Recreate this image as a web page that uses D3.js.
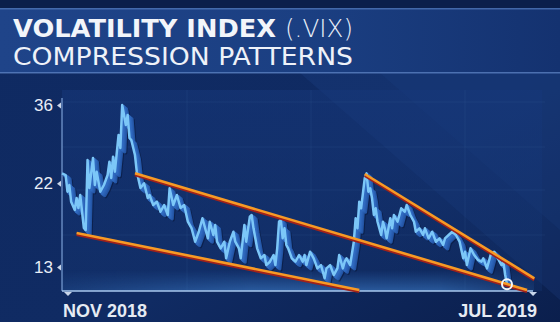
<!DOCTYPE html>
<html><head><meta charset="utf-8">
<script src="https://cdn.jsdelivr.net/npm/d3@7"></script>
<style>html,body{margin:0;padding:0;background:#0c2356;}svg{display:block;}</style>
</head><body>
<svg id="chart" width="560" height="322"></svg>
<script>
// ---- data ----
const titleLine1 = "VOLATILITY INDEX";
const titleTicker = "(.VIX)";
const titleLine2 = "COMPRESSION PATTERNS";
// calendar days since 1 Nov 2018
const days = [0,2,3,4,5,7,8,9,10,11,12,13,14,15,17,18,19,21,23,25,26,27,28,29,31,32,33,35,36,37,38,40,41,43,45,47,48,50,52,54,56,58,59,61,63,65,67,69,71,73,75,77,80,81,83,84,85,87,89,90,92,94,95,97,98,99,100,101,103,104,105,107,109,111,112,114,116,117,118,119,120,121,122,123,124,126,128,130,132,133,134,136,138,140,142,144,145,147,149,151,152,154,155,156,158,160,161,162,163,164,166,167,168,169,170,171,172,173,175,176,177,178,180,181,182,184,186,188,189,191,193,194,196,198,199,201,203,205,207,209,210,212,214,216,218,220,221,222,224,226,228,230,231,233,235,237,239,241,242,243,244];
const vix = [23.43,23.18,20.87,21.77,19.60,18.60,20.06,18.84,20.44,18.40,16.61,16.40,25.48,21.36,25.80,21.77,23.67,20.87,21.77,23.18,25.21,22.75,26.01,23.67,29.81,27.47,36.0,31.75,33.81,29.26,28.89,26.29,23.67,21.36,22.01,20.06,20.44,19.20,19.60,18.40,19.20,18.03,21.32,19.20,20.44,18.84,19.20,17.28,16.61,15.24,16.23,17.66,15.57,17.28,15.90,16.93,15.24,14.62,15.24,13.73,15.24,16.23,15.24,14.62,13.73,15.24,16.93,15.24,17.84,18.03,16.58,14.62,13.73,14.02,13.16,13.44,14.02,13.16,14.62,17.28,17.47,15.57,16.58,14.93,14.62,13.73,13.44,14.02,13.44,14.02,13.16,14.31,13.73,12.89,13.16,12.11,12.89,13.16,12.36,12.89,14.02,12.89,13.44,13.73,13.16,15.24,17.66,16.58,19.60,18.80,22.71,23.43,20.87,21.32,20.02,18.03,18.80,17.28,15.90,17.28,16.58,15.57,17.66,16.58,18.03,17.28,18.80,18.40,19.20,18.03,17.28,16.23,16.58,15.90,16.58,15.57,16.23,15.24,15.57,14.93,15.57,15.90,16.23,15.90,15.24,13.73,14.31,13.16,14.62,14.02,13.60,13.44,13.73,12.89,14.02,14.31,13.73,13.16,13.44,12.36,11.66];
const yTicks = [13, 22, 36];
const xTickDays = [3, 258];
const xTickLabels = ["NOV 2018", "JUL 2019"];
// trend lines: start/end day and level
const trendStartDay = [8, 40, 166];
const trendStartVal = [16.10, 23.43, 23.33];
const trendEndDay = [163, 255, 259];
const trendEndVal = [11.25, 11.25, 12.11];

// ---- drawing ----
const svg = d3.select("#chart");
const W = 560, H = 322;
const defs = svg.append("defs");

const bg = defs.append("linearGradient").attr("id","bg").attr("x1",0).attr("y1",0).attr("x2",1).attr("y2",1);
bg.append("stop").attr("offset","0%").attr("stop-color","#0f2a62");
bg.append("stop").attr("offset","60%").attr("stop-color","#102b63");
bg.append("stop").attr("offset","100%").attr("stop-color","#0b1f4d");
svg.append("rect").attr("width",W).attr("height",H).attr("fill","url(#bg)");

// lighter diagonal wedge in the top-right
svg.append("path").attr("d","M300,73 L560,73 L560,300 Z").attr("fill","#2a5aa8").attr("opacity",0.16);
svg.append("path").attr("d","M380,73 L560,73 L560,230 Z").attr("fill","#2a5aa8").attr("opacity",0.10);

// plot area
const plot = defs.append("linearGradient").attr("id","plot").attr("x1",0).attr("y1",0).attr("x2",0).attr("y2",1);
plot.append("stop").attr("offset","0%").attr("stop-color","#16377a").attr("stop-opacity",0.55);
plot.append("stop").attr("offset","100%").attr("stop-color","#14346f").attr("stop-opacity",0.35);
svg.append("rect").attr("x",62).attr("y",90).attr("width",480).attr("height",201).attr("fill","url(#plot)");

// banner
const ban = defs.append("linearGradient").attr("id","ban").attr("x1",0).attr("y1",0).attr("x2",1).attr("y2",0);
ban.append("stop").attr("offset","0%").attr("stop-color","#1f4489");
ban.append("stop").attr("offset","55%").attr("stop-color","#1b3f82");
ban.append("stop").attr("offset","100%").attr("stop-color","#143270");
svg.append("rect").attr("x",0).attr("y",0).attr("width",W).attr("height",8).attr("fill","#0b1f4b");
svg.append("rect").attr("x",0).attr("y",8).attr("width",W).attr("height",65).attr("fill","url(#ban)");
svg.append("rect").attr("x",0).attr("y",8).attr("width",W).attr("height",1.5).attr("fill","#4d74b5").attr("opacity",0.8);
svg.append("rect").attr("x",0).attr("y",72).attr("width",W).attr("height",1.5).attr("fill","#5a80bf").attr("opacity",0.8);

svg.append("text").attr("x",13).attr("y",37).attr("font-family","DejaVu Sans, sans-serif")
  .attr("font-weight","bold").attr("font-size",24).attr("fill","#f2f5fa")
  .attr("textLength",263).attr("lengthAdjust","spacingAndGlyphs").text(titleLine1);
svg.append("text").attr("x",285).attr("y",37).attr("font-family","DejaVu Sans, sans-serif")
  .attr("font-weight","200").attr("font-size",24).attr("fill","#e8eef8")
  .attr("textLength",68).attr("lengthAdjust","spacingAndGlyphs").text(titleTicker);
svg.append("text").attr("x",13).attr("y",65).attr("font-family","DejaVu Sans, sans-serif")
  .attr("font-size",24).attr("fill","#eef2f9")
  .attr("textLength",340).attr("lengthAdjust","spacingAndGlyphs").text(titleLine2);

// scales
const x = d3.scaleLinear().domain([0, 244]).range([62, 507]);
const y = d3.scaleLog().domain([13, 36]).range([267, 105]);

// faint grid
const grid = svg.append("g").attr("stroke","#7fa6e0").attr("stroke-opacity",0.07).attr("stroke-width",1);
[102,147,190,235].forEach(g => grid.append("line").attr("x1",62).attr("x2",545).attr("y1",g).attr("y2",g));
[187,311,465].forEach(g => grid.append("line").attr("y1",90).attr("y2",291).attr("x1",g).attr("x2",g));

// bottom glow
const glow = defs.append("linearGradient").attr("id","glow").attr("x1",0).attr("y1",0).attr("x2",0).attr("y2",1);
glow.append("stop").attr("offset","0%").attr("stop-color","#3c86d8").attr("stop-opacity",0);
glow.append("stop").attr("offset","100%").attr("stop-color","#4a94e6").attr("stop-opacity",0.45);
const glowH = defs.append("linearGradient").attr("id","glowH").attr("x1",0).attr("y1",0).attr("x2",1).attr("y2",0);
glowH.append("stop").attr("offset","0%").attr("stop-color","#fff").attr("stop-opacity",0.3);
glowH.append("stop").attr("offset","40%").attr("stop-color","#fff").attr("stop-opacity",1);
glowH.append("stop").attr("offset","80%").attr("stop-color","#fff").attr("stop-opacity",1);
glowH.append("stop").attr("offset","100%").attr("stop-color","#fff").attr("stop-opacity",0.3);
const mask = defs.append("mask").attr("id","gm");
mask.append("rect").attr("x",62).attr("y",270).attr("width",472).attr("height",21).attr("fill","url(#glowH)");
svg.append("rect").attr("x",62).attr("y",270).attr("width",472).attr("height",21).attr("fill","url(#glow)").attr("mask","url(#gm)");

// axes
svg.append("line").attr("x1",62).attr("x2",62).attr("y1",98).attr("y2",291).attr("stroke","#7b9fd6").attr("stroke-width",1.2);
svg.append("line").attr("x1",62).attr("x2",533).attr("y1",291).attr("y2",291).attr("stroke","#a9c8ee").attr("stroke-width",1.6);

const yAxis = svg.append("g").attr("transform","translate(62,0)")
  .call(d3.axisLeft(y).tickValues(yTicks).tickFormat(d3.format("d")).tickSize(0).tickPadding(9));
yAxis.select(".domain").remove();
yAxis.selectAll("text").attr("font-family","Liberation Sans, Arial, sans-serif").attr("font-size",17).attr("fill","#e9eef7");
yAxis.selectAll(".tick").append("path").attr("d","M-1,-3 L-1,3 L-5,0 Z").attr("fill","#c9d6ea");

const xAxis = svg.append("g").attr("transform","translate(0,291)")
  .call(d3.axisBottom(x).tickValues(xTickDays).tickFormat((d,i) => xTickLabels[i]).tickSize(0).tickPadding(15));
xAxis.select(".domain").remove();
xAxis.selectAll("text").attr("font-family","Liberation Sans, Arial, sans-serif").attr("font-weight","bold")
  .attr("font-size",18).attr("fill","#e6ebf3").attr("dy","0.62em")
  .attr("text-anchor",(d,i) => i === 0 ? "start" : "end")
  .attr("dx",(d,i) => i === 0 ? -5 : 4);
xAxis.selectAll(".tick").append("path").attr("d","M-4,1 L4,1 L0,5 Z").attr("fill","#c9d6ea");

// series
const pts = days.map((d,i) => [d, vix[i]]);
const line = d3.line().x(d => x(d[0])).y(d => y(d[1]));
const sh = svg.append("g");
[[5.5,5,"#08173b",0.6],[4.5,4,"#2354a3",1],[3.5,3.2,"#285cae",1],[2.5,2.4,"#2c63b8",1],[1.5,1.5,"#306bc1",1]].forEach(o => {
  sh.append("path").datum(pts).attr("d",line).attr("fill","none").attr("stroke",o[2]).attr("stroke-opacity",o[3])
    .attr("stroke-width",3).attr("stroke-linejoin","round").attr("transform",`translate(${o[0]},${o[1]})`);
});
svg.append("path").datum(pts).attr("d",line).attr("fill","none").attr("stroke","#7cc7f8")
  .attr("stroke-width",2.5).attr("stroke-linejoin","round");

// trend lines
const tl = svg.append("g");
trendStartDay.forEach((d,i) => {
  const x1 = x(d), y1 = y(trendStartVal[i]), x2 = x(trendEndDay[i]), y2 = y(trendEndVal[i]);
  tl.append("line").attr("x1",x1).attr("y1",y1+1.6).attr("x2",x2).attr("y2",y2+1.6).attr("stroke","#a1221b").attr("stroke-width",3);
  tl.append("line").attr("x1",x1).attr("y1",y1).attr("x2",x2).attr("y2",y2).attr("stroke","#f79a25").attr("stroke-width",2.6);
});

// last point marker
const last = pts[pts.length-1];
svg.append("circle").attr("cx",x(last[0])).attr("cy",y(last[1])).attr("r",5)
  .attr("fill","none").attr("stroke","#f4f6fa").attr("stroke-width",2);
</script>
</body></html>
